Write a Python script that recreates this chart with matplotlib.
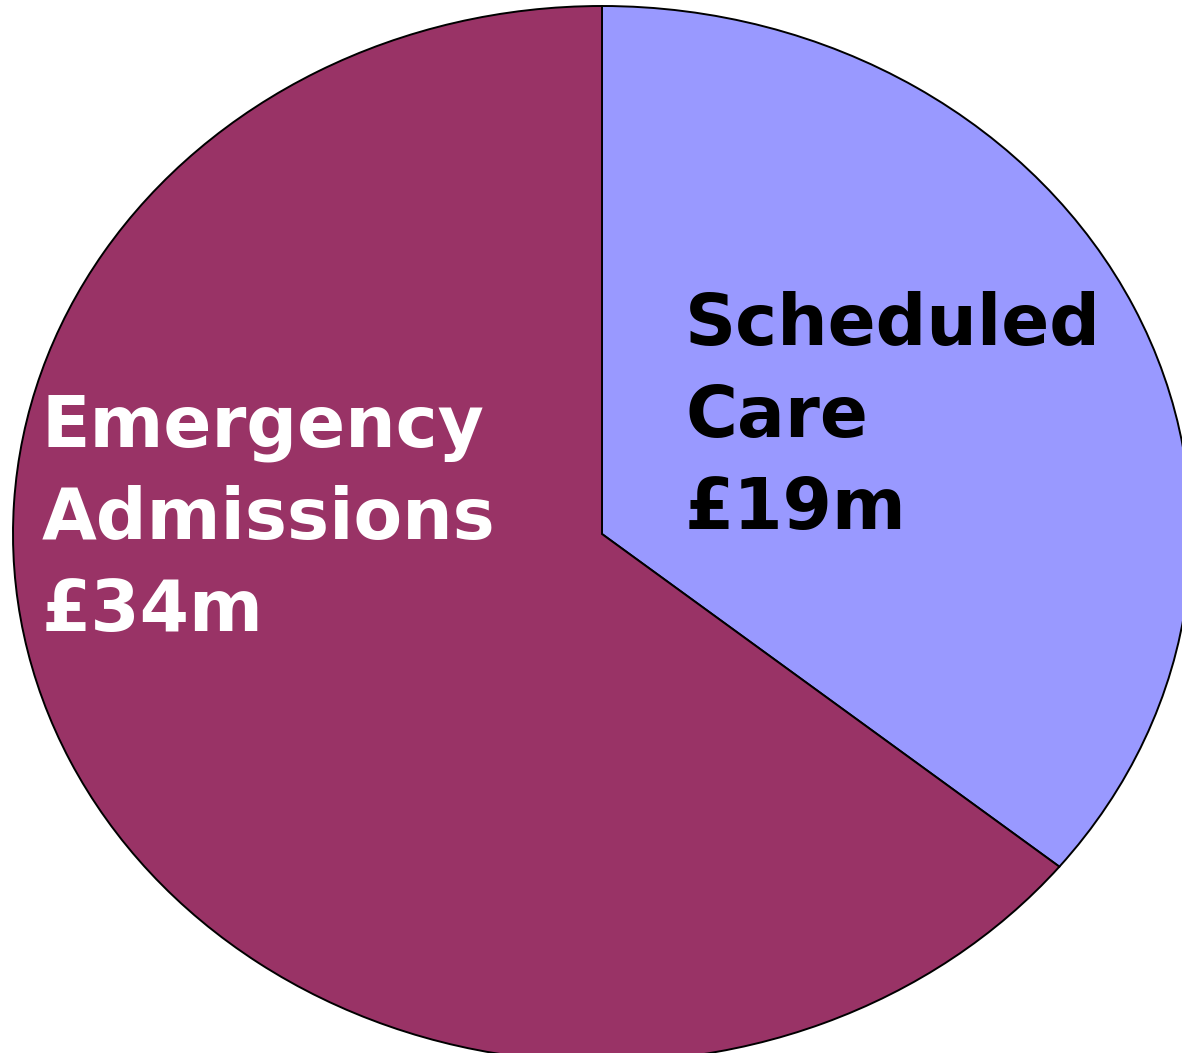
import matplotlib.pyplot as plt

# spend by care type, £m
labels = ["Scheduled\nCare", "Emergency\nAdmissions"]
values = [19, 34]
colors = ["#9999FF", "#993366"]
text_colors = ["black", "white"]

W, H = 1182, 1053
fig = plt.figure(figsize=(W / 100, H / 100), dpi=100)
ax = fig.add_axes([0, 0, 1, 1])

# pie is drawn stretched sideways and runs off the right and bottom edges
cx, cy, rx, ry = 602, 534, 589, 528
ax.pie(values, colors=colors, startangle=90, counterclock=False, radius=1,
       wedgeprops=dict(edgecolor="black", linewidth=1.4))
ax.set_aspect("auto")
ax.set_xlim(-cx / rx, (W - cx) / rx)
ax.set_ylim((cy - H) / ry, cy / ry)
ax.axis("off")

# label blocks: left x and first baseline in pixels
anchors = [(685, 345), (42, 447)]
line_gap = 92
for lab, val, col, (x0, y0) in zip(labels, values, text_colors, anchors):
    lines = lab.split("\n") + [f"£{val}m"]
    for i, line in enumerate(lines):
        fig.text(x0 / W, 1 - (y0 + i * line_gap) / H, line,
                 fontsize=51, fontweight="bold", color=col,
                 family="DejaVu Sans", ha="left", va="baseline")

fig.savefig("out.png", dpi=100)
